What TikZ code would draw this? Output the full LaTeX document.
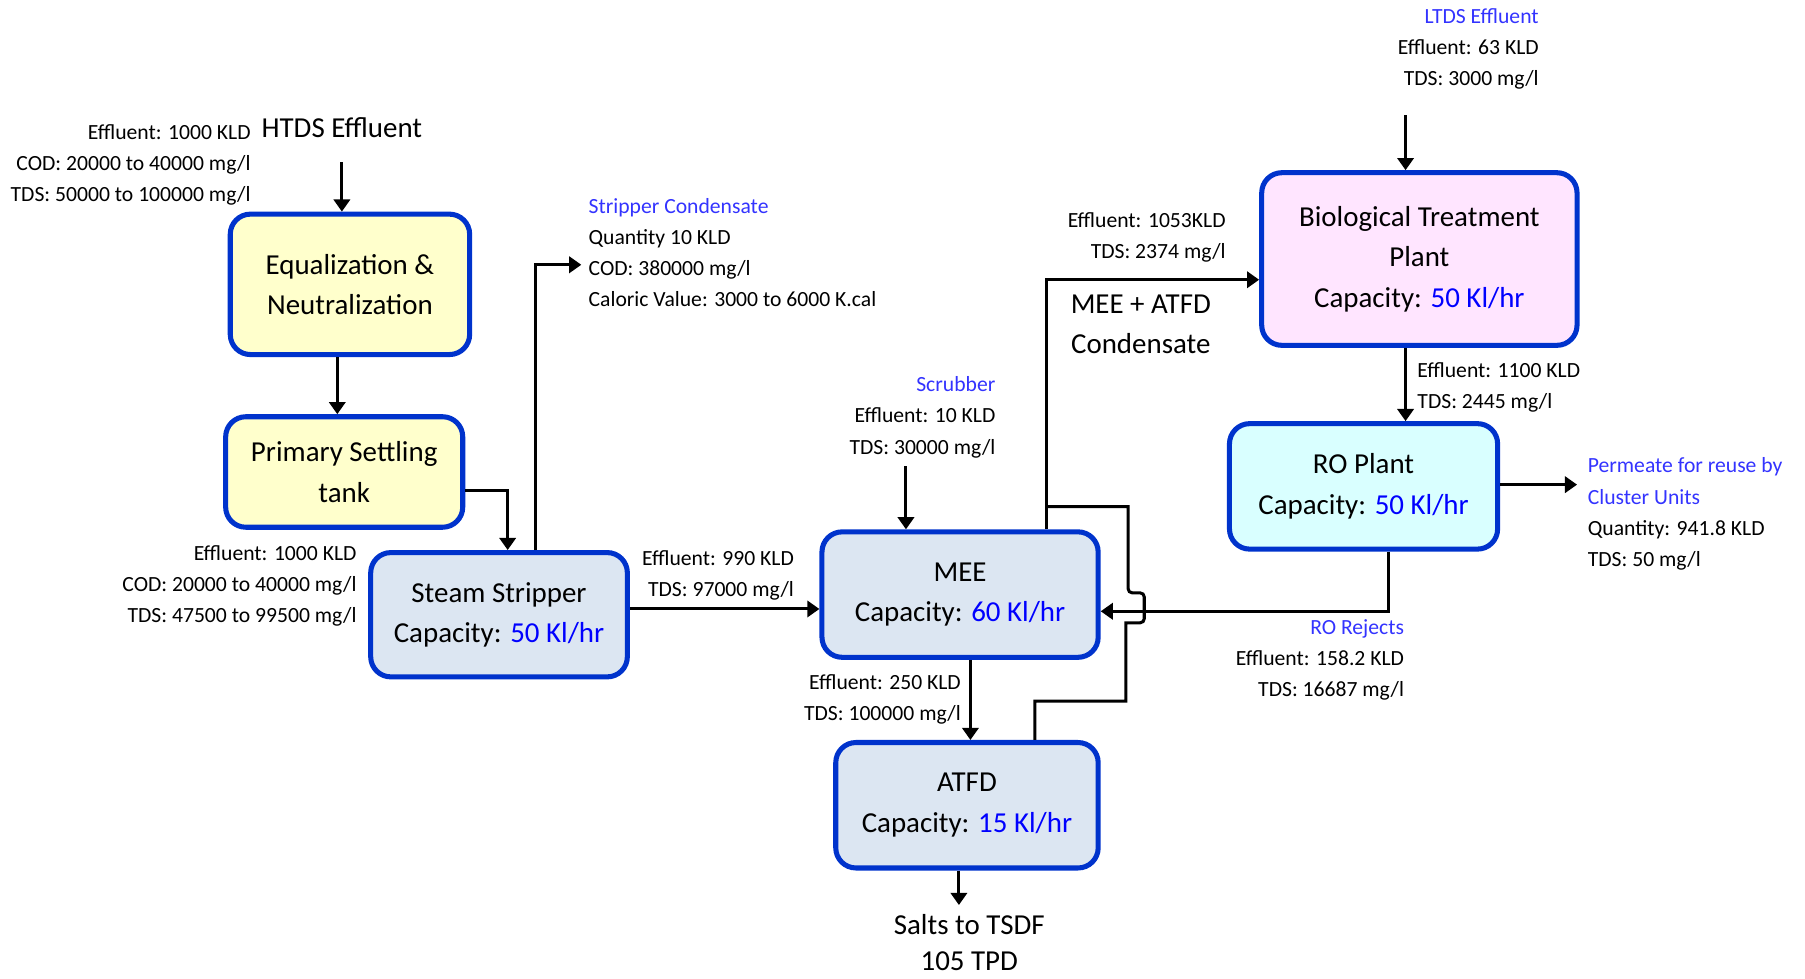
\documentclass[tikz,border=0pt]{standalone}
\usepackage{fontspec}
\setmainfont{Carlito}
\usetikzlibrary{arrows.meta,positioning}

\definecolor{boxblue}{RGB}{0,51,204}
\definecolor{capblue}{RGB}{0,0,255}
\definecolor{lblblue}{RGB}{51,51,255}
\definecolor{eqyellow}{RGB}{255,255,204}
\definecolor{btppink}{RGB}{255,229,255}
\definecolor{rocyan}{RGB}{217,255,255}
\definecolor{unitgrey}{RGB}{220,230,242}

\newcommand{\bigtxt}{\fontsize{14.3}{20}\selectfont}
\newcommand{\smalltxt}{\fontsize{10.7}{15.4}\selectfont}
\newcommand{\capv}[1]{\textcolor{capblue}{#1}}
\newcommand{\lbl}[1]{\textcolor{lblblue}{#1}}

\tikzset{
  unit/.style={draw=boxblue, line width=2.5pt, rounded corners=0.35cm,
    align=center, font=\bigtxt, inner sep=0pt},
  flow/.style={line width=1.5pt, -{Triangle[width=8pt,length=6pt]}},
  pipe/.style={line width=1.5pt},
  noteR/.style={align=right, font=\smalltxt, inner sep=0pt, anchor=east},
  noteL/.style={align=left, font=\smalltxt, inner sep=0pt, anchor=west},
  head/.style={align=center, font=\bigtxt, inner sep=0pt}
}

\begin{document}
\begin{tikzpicture}[x=0.02cm, y=-0.02cm]
    \useasboundingbox (0,0) rectangle (1568,850);

    % treatment units
    \node[unit, fill=eqyellow, minimum width=4.16cm, minimum height=2.44cm] (eq) at (304,247) {Equalization \&\\Neutralization};
    \node[unit, fill=eqyellow, minimum width=4.12cm, minimum height=1.92cm] (pst) at (299,410) {Primary Settling\\tank};
    \node[unit, fill=unitgrey, minimum width=4.46cm, minimum height=2.16cm] (ss) at (433.5,534) {Steam Stripper\\Capacity: \capv{50 Kl/hr}};
    \node[unit, fill=unitgrey, minimum width=4.80cm, minimum height=2.18cm] (mee) at (834,516.5) {MEE\\Capacity: \capv{60 Kl/hr}};
    \node[unit, fill=unitgrey, minimum width=4.56cm, minimum height=2.18cm] (atfd) at (840,699.5) {ATFD\\Capacity: \capv{15 Kl/hr}};
    \node[unit, fill=btppink, minimum width=5.48cm, minimum height=3.00cm] (btp) at (1233,225) {Biological Treatment\\Plant\\Capacity: \capv{50 Kl/hr}};
    \node[unit, fill=rocyan, minimum width=4.66cm, minimum height=2.18cm] (ro) at (1184.5,422.5) {RO Plant\\Capacity: \capv{50 Kl/hr}};

    % texts
    \node[head] (htds) at (297,111) {HTDS Effluent};
    \node[noteR] (htdsdata) at (218,143) {Effluent: 1000 KLD\\COD: 20000 to 40000 mg/l\\TDS: 50000 to 100000 mg/l};
    \node[noteR] (ssdata) at (310,509) {Effluent: 1000 KLD\\COD: 20000 to 40000 mg/l\\TDS: 47500 to 99500 mg/l};
    \node[noteL] (cond) at (511,219.5) {\lbl{Stripper Condensate}\\Quantity 10 KLD\\COD: 380000 mg/l\\Caloric Value: 3000 to 6000 K.cal};
    \node[noteR] (ssmee) at (690,500) {Effluent: 990 KLD\\TDS: 97000 mg/l};
    \node[noteR] (scrub) at (865,362.5) {\lbl{Scrubber}\\Effluent: 10 KLD\\TDS: 30000 mg/l};
    \node[noteR] (meeatfd) at (835,607.5) {Effluent: 250 KLD\\TDS: 100000 mg/l};
    \node[head, font=\fontsize{14.3}{18}\selectfont] (salts) at (842,819) {Salts to TSDF\\105 TPD};
    \node[noteR] (meebtp) at (1065,206.5) {Effluent: 1053KLD\\TDS: 2374 mg/l};
    \node[head] (condmee) at (991,281.5) {MEE + ATFD\\Condensate};
    \node[noteR] (ltds) at (1337,42.5) {\lbl{LTDS Effluent}\\Effluent: 63 KLD\\TDS: 3000 mg/l};
    \node[noteL] (btpro) at (1231,336.5) {Effluent: 1100 KLD\\TDS: 2445 mg/l};
    \node[noteL] (perm) at (1379,446.5) {\lbl{Permeate for reuse by}\\\lbl{Cluster Units}\\Quantity: 941.8 KLD\\TDS: 50 mg/l};
    \node[noteR] (rorej) at (1220,573) {\lbl{RO Rejects}\\Effluent: 158.2 KLD\\TDS: 16687 mg/l};

    % free ends
    \coordinate (condin) at (505,230);
    \coordinate (scrubout) at (787,405);
    \coordinate (ltdsout) at (1221,100);
    \coordinate (permin) at (1370,421);
    \coordinate (jn) at (909,440);

    % main line
    \draw[flow] ([yshift=-0.42cm]htds.south) -- (htds.south |- eq.north);
    \draw[flow] ([xshift=-0.22cm]eq.south) -- ([xshift=-0.22cm]eq.south |- pst.north);
    \draw[flow] ([yshift=-0.32cm]pst.east) -| ([xshift=0.15cm]ss.north);
    \draw[flow] ([xshift=0.63cm]ss.north) |- (condin);
    \draw[flow] ([yshift=0.1cm]ss.east) -- ([yshift=0.1cm]ss.east -| mee.west);
    \draw[flow] (scrubout) -- (scrubout |- mee.north);
    \draw[flow] ([xshift=0.18cm]mee.south) -- ([xshift=0.18cm]mee.south |- atfd.north);
    \draw[flow] ([xshift=-0.14cm]atfd.south) -- ([xshift=-0.14cm,yshift=-0.6cm]atfd.south);

    % condensate to biological plant
    \draw[flow] ([xshift=1.5cm]mee.north) |- ([yshift=-0.36cm]btp.west);
    \draw[flow] (ltdsout) -- (ltdsout |- btp.north);
    \draw[flow] ([xshift=-0.24cm]btp.south) -- ([xshift=-0.24cm]btp.south |- ro.north);
    \draw[flow] (ro.east |- permin) -- (permin);

    % RO rejects back to MEE
    \draw[flow] ([xshift=0.43cm]ro.south) |- ([yshift=-0.29cm]mee.east);
    % ATFD condensate, jumping over the rejects line
    \draw[pipe] ([xshift=1.18cm]atfd.north) |- (978,609) -- (978,541)
        [rounded corners=2pt] -- (994,541) -- (994,515) -- (980,515)
        [sharp corners] -- (980,440) -- (jn);
\end{tikzpicture}
\end{document}
